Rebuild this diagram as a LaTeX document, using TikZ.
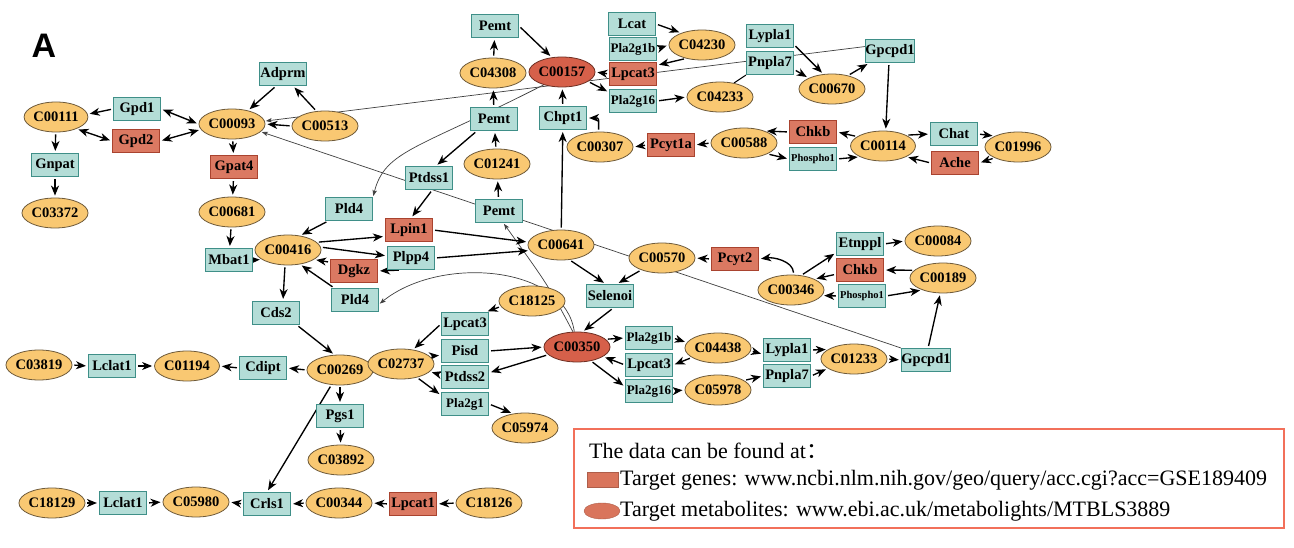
\documentclass[tikz,border=0pt]{standalone}
\usepackage{fontspec}
\setmainfont{Liberation Serif}
\newfontfamily\sansA{Liberation Sans}
\newfontfamily\cjk{Noto Sans CJK SC}
\usetikzlibrary{arrows.meta,shapes.geometric}
\definecolor{gfill}{HTML}{B4DDD7}
\definecolor{gdraw}{HTML}{3F8F88}
\definecolor{rfill}{HTML}{DB7962}
\definecolor{rdraw}{HTML}{A9432F}
\definecolor{mfill}{HTML}{F9C872}
\definecolor{mdraw}{HTML}{6E5A3A}
\definecolor{rmfill}{HTML}{D6604A}
\definecolor{rmdraw}{HTML}{6E2E22}
\definecolor{legred}{HTML}{F2705A}
\definecolor{legsw}{HTML}{D9755C}
\newcommand\NFmain{\bfseries\fontsize{14.5}{14.5}\selectfont}
\newcommand\NFsmall{\bfseries\fontsize{13}{13}\selectfont}
\newcommand\NFtiny{\bfseries\fontsize{10.5}{10.5}\selectfont}
\newcommand\NFleg{\fontsize{22}{22}\selectfont}
\pgfdeclarelayer{background}
\pgfsetlayers{background,main}
\begin{document}
\begin{tikzpicture}[x=1pt,y=1pt,
  gene/.style={rectangle, draw=gdraw, fill=gfill, line width=1.1pt, minimum width=47pt, minimum height=23pt, inner sep=0pt, font=\NFmain},
  tgene/.style={gene, draw=rdraw, fill=rfill},
  met/.style={ellipse, draw=mdraw, fill=mfill, line width=0.8pt, minimum width=51pt, minimum height=30pt, inner sep=0pt, font=\NFmain},
  tmet/.style={met, draw=rmdraw, fill=rmfill},
  ar/.style={line width=1.35pt, -{Stealth[length=10pt,width=8pt,inset=3pt]}, shorten >=2pt, shorten <=2pt},
  dar/.style={line width=1.35pt, {Stealth[length=10pt,width=8pt,inset=3pt]}-{Stealth[length=10pt,width=8pt,inset=3pt]}, shorten >=2pt, shorten <=2pt},
  tl/.style={line width=0.7pt, draw=black!75, -{Stealth[length=6pt,width=4.5pt,inset=1.5pt]}, shorten >=1pt},
  pl/.style={line width=1pt},
  txt/.style={inner sep=0pt, anchor=west, font=\NFleg}
]
\useasboundingbox (0,0) rectangle (1294,-548);

\node[font=\sansA\bfseries\fontsize{34}{34}\selectfont] (lbl) at (44,-46) {A};

% metabolites
\node[met] (c00111) at (56,-117) {C00111};
\node[met] (c03372) at (55,-213) {C03372};
\node[met] (c00093) at (232,-124) {C00093};
\node[met] (c00513) at (325,-126) {C00513};
\node[met] (c00681) at (232,-212) {C00681};
\node[met] (c00416) at (288,-250) {C00416};
\node[met] (c00269) at (340,-370) {C00269};
\node[met] (c03819) at (39,-365) {C03819};
\node[met] (c01194) at (187,-366) {C01194};
\node[met] (c03892) at (341,-460) {C03892};
\node[met] (c18129) at (52,-503) {C18129};
\node[met] (c05980) at (196,-502) {C05980};
\node[met] (c00344) at (339,-503) {C00344};
\node[met] (c18126) at (489,-503) {C18126};
\node[met] (c04308) at (493,-73) {C04308};
\node[tmet] (c00157) at (562,-72) {C00157};
\node[met] (c01241) at (497,-164) {C01241};
\node[met] (c00307) at (600,-147) {C00307};
\node[met] (c04230) at (702,-45) {C04230};
\node[met] (c04233) at (720,-97) {C04233};
\node[met] (c00670) at (832,-89) {C00670};
\node[met] (c00588) at (744,-143) {C00588};
\node[met] (c00114) at (883,-146) {C00114};
\node[met] (c01996) at (1018,-147) {C01996};
\node[met] (c00641) at (561,-245) {C00641};
\node[met] (c00570) at (662,-258) {C00570};
\node[met] (c18125) at (532,-301) {C18125};
\node[met] (c02737) at (401,-364) {C02737};
\node[tmet] (c00350) at (577,-347) {C00350};
\node[met] (c05974) at (525,-428) {C05974};
\node[met] (c00346) at (791,-290) {C00346};
\node[met] (c00084) at (938,-241) {C00084};
\node[met] (c00189) at (943,-278) {C00189};
\node[met] (c04438) at (718,-348) {C04438};
\node[met] (c05978) at (718,-390) {C05978};
\node[met] (c01233) at (854,-359) {C01233};

% genes
\node[gene] (gpd1) at (137,-109) {Gpd1};
\node[tgene] (gpd2) at (136,-141) {Gpd2};
\node[gene] (gnpat) at (55,-165) {Gnpat};
\node[gene] (adprm) at (283,-74) {Adprm};
\node[tgene] (gpat4) at (234,-167) {Gpat4};
\node[gene] (mbat1) at (229,-260) {Mbat1};
\node[gene] (cds2) at (276,-313) {Cds2};
\node[gene] (lclatA) at (112,-366) {Lclat1};
\node[gene] (cdipt) at (263,-368) {Cdipt};
\node[gene] (pgs1) at (340,-416) {Pgs1};
\node[gene] (lclatB) at (123,-503) {Lclat1};
\node[gene] (crls1) at (267,-504) {Crls1};
\node[tgene] (lpcat1) at (413,-504) {Lpcat1};
\node[gene] (pemtA) at (495,-26) {Pemt};
\node[gene] (pemtB) at (494,-119) {Pemt};
\node[gene] (pemtC) at (499,-211) {Pemt};
\node[gene] (chpt1) at (563,-118) {Chpt1};
\node[gene] (ptdss1) at (429,-178) {Ptdss1};
\node[gene] (pld4A) at (349,-209) {Pld4};
\node[tgene] (lpin1) at (409,-230) {Lpin1};
\node[gene] (plpp4) at (411,-258) {Plpp4};
\node[tgene] (dgkz) at (354,-271) {Dgkz};
\node[gene] (pld4B) at (355,-300) {Pld4};
\node[gene] (lcat) at (632,-24) {Lcat};
\node[gene,font=\NFsmall] (pla2g1bA) at (633,-49) {Pla2g1b};
\node[tgene] (lpcat3A) at (633,-74) {Lpcat3};
\node[gene,font=\NFsmall] (pla2g16A) at (633,-101) {Pla2g16};
\node[gene] (lypla1A) at (770,-36) {Lypla1};
\node[gene] (pnpla7A) at (770,-63) {Pnpla7};
\node[gene] (gpcpd1A) at (890,-51) {Gpcpd1};
\node[tgene] (pcyt1a) at (671,-145) {Pcyt1a};
\node[tgene] (chkbA) at (813,-132) {Chkb};
\node[gene,font=\NFtiny] (phosphoA) at (813,-159) {Phospho1};
\node[gene] (chat) at (954,-134) {Chat};
\node[tgene] (ache) at (955,-163) {Ache};
\node[gene] (selenoi) at (610,-296) {Selenoi};
\node[gene] (lpcat3B) at (465,-324) {Lpcat3};
\node[gene] (pisd) at (465,-351) {Pisd};
\node[gene] (ptdss2) at (465,-377) {Ptdss2};
\node[gene,font=\NFsmall] (pla2g1) at (465,-404) {Pla2g1};
\node[tgene] (pcyt2) at (735,-259) {Pcyt2};
\node[gene] (etnppl) at (860,-244) {Etnppl};
\node[tgene] (chkbB) at (860,-270) {Chkb};
\node[gene,font=\NFtiny] (phosphoB) at (862,-296) {Phospho1};
\node[gene,font=\NFsmall] (pla2g1bB) at (649,-338) {Pla2g1b};
\node[gene] (lpcat3C) at (649,-365) {Lpcat3};
\node[gene,font=\NFsmall] (pla2g16B) at (649,-391) {Pla2g16};
\node[gene] (lypla1B) at (787,-350) {Lypla1};
\node[gene] (pnpla7B) at (787,-376) {Pnpla7};
\node[gene] (gpcpd1B) at (926,-360) {Gpcpd1};

% legend
\node[draw=legred, line width=1.8pt, minimum width=710pt, minimum height=99pt, inner sep=0pt, anchor=north west] (legend) at (573,-428) {};
\node[txt] (legt) at (589,-451) {The data can be found at{\cjk ：}};
\node[rectangle, fill=legsw, draw=legsw!80!black, line width=0.4pt, minimum width=31pt, minimum height=15pt, inner sep=0pt] (legr) at (603,-480) {};
\node[txt] (legg) at (620,-480) {Target genes: www.ncbi.nlm.nih.gov/geo/query/acc.cgi?acc=GSE189409};
\node[ellipse, fill=legsw, draw=legsw!80!black, line width=0.4pt, minimum width=36pt, minimum height=16pt, inner sep=0pt] (lege) at (602,-511) {};
\node[txt] (legm) at (620,-511) {Target metabolites: www.ebi.ac.uk/metabolights/MTBLS3889};

\begin{pgfonlayer}{background}
\fill[white] (0,0) rectangle (1294,-548);
% thin lines
\draw[tl] (gpcpd1A.170) -- (c00093.5);
\draw[tl] (gpcpd1B.north west) -- (c00093.-15);
\draw[tl] (c00350.105) .. controls (548,-285) .. (pemtC.-70);
\draw[tl] (c00350.100) .. controls (565,-265) and (440,-255) .. (pld4B.-10);
\draw[tl] (c00157.-145) .. controls (418,-149) and (385,-150) .. (pld4A.north east);
% left part
\draw[ar] (gpd1.west) -- (c00111.5);
\draw[dar] (gpd1.east) -- (c00093.west);
\draw[dar] (c00111.-30) -- (gpd2.west);
\draw[dar] (gpd2.east) -- (c00093.190);
\draw[ar] (c00111) -- (gnpat);
\draw[ar] (gnpat) -- (c03372);
\draw[ar] (adprm.-120) -- (c00093.40);
\draw[ar] (c00513.120) -- (adprm.-50);
\draw[ar] (c00513.west) -- (c00093.east);
\draw[ar] (c00093) -- (gpat4);
\draw[ar] (gpat4) -- (c00681);
\draw[ar] (c00681) -- (mbat1);
\draw[ar] (mbat1.east) -- (c00416.200);
\draw[ar] (pld4A.-150) -- (c00416.50);
\draw[ar] (c00416.15) -- (lpin1.-165);
\draw[ar] (c00416.5) -- (plpp4.175);
\draw[ar] (dgkz.160) -- (c00416.-20);
\draw[ar] (pld4B.150) -- (c00416.-50);
\draw[ar] (plpp4.-130) -- (dgkz.east);
\draw[ar] (c00416.-101) -- (cds2.60);
\draw[ar] (cds2.-30) -- (c00269.110);
\draw[ar] (c00269.west) -- (cdipt.east);
\draw[ar] (cdipt.west) -- (c01194.east);
\draw[ar] (c03819.east) -- (lclatA.west);
\draw[ar] (lclatA.east) -- (c01194.west);
\draw[ar] (c00269) -- (pgs1);
\draw[ar] (pgs1) -- (c03892);
\draw[ar] (c00269.-120) -- (crls1.north);
\draw[ar] (c18129.east) -- (lclatB.west);
\draw[ar] (lclatB.east) -- (c05980.west);
\draw[ar] (crls1.west) -- (c05980.east);
\draw[ar] (c00344.west) -- (crls1.east);
\draw[ar] (lpcat1.west) -- (c00344.east);
\draw[ar] (c18126.west) -- (lpcat1.east);
% upper middle
\draw[ar] (pemtB.-145) -- (ptdss1.60);
\draw[ar] (ptdss1.-75) -- (lpin1.80);
\draw[ar] (c04308) -- (pemtA);
\draw[ar] (pemtA.east) -- (c00157.125);
\draw[ar] (pemtB) -- (c04308);
\draw[ar] (c01241) -- (pemtB);
\draw[ar] (pemtC) -- (c01241);
\draw[ar] (chpt1) -- (c00157);
\draw[ar] (c00641) -- (chpt1);
\draw[ar] (c00307.95) .. controls +(0,14) and +(12,0) .. (chpt1.east);
\draw[ar] (pcyt1a.west) -- (c00307.east);
\draw[ar] (c00588.west) -- (pcyt1a.east);
\draw[ar] (c00114.160) -- (chkbA.east);
\draw[ar] (chkbA.west) -- (c00588.30);
\draw[ar] (c00588.-25) -- (phosphoA.west);
\draw[ar] (phosphoA.east) -- (c00114.-155);
\draw[ar] (c00114.25) -- (chat.west);
\draw[ar] (ache.west) -- (c00114.-25);
\draw[ar] (chat.east) -- (c01996.155);
\draw[ar] (c01996.-155) -- (ache.east);
\draw[ar] (gpcpd1A.-95) -- (c00114.80);
\draw[ar] (c00670.40) -- (gpcpd1A.-150);
\draw[ar] (lypla1A.-20) -- (c00670.120);
\draw[ar] (pnpla7A.-15) -- (c00670.155);
\draw[pl] (c04233.45) -- (pnpla7A.south west);
\draw[ar] (pla2g16A.east) -- (c04233.west);
\draw[ar] (c00157.-20) -- (pla2g16A.160);
\draw[ar] (lpcat3A.west) -- (c00157.east);
\draw[ar] (c04230.-140) -- (lpcat3A.20);
\draw[ar] (lcat.east) -- (c04230.150);
\draw[ar] (pla2g1bA.east) -- (c04230.west);
% lower middle / right
\draw[ar] (c00641.-60) -- (selenoi.110);
\draw[ar] (c00570.-150) -- (selenoi.60);
\draw[ar] (pcyt2.west) -- (c00570.east);
\draw[ar] (c00346.80) .. controls +(-1,14) and +(14,2) .. (pcyt2.east);
\draw[ar] (c00346.55) -- (etnppl.200);
\draw[ar] (etnppl.east) -- (c00084.west);
\draw[ar] (chkbB.190) -- (c00346.25);
\draw[ar] (c00189.165) -- (chkbB.east);
\draw[ar] (phosphoB.west) -- (c00346.-10);
\draw[ar] (phosphoB.east) -- (c00189.-150);
\draw[ar] (gpcpd1B.80) -- (c00189.-100);
\draw[ar] (c01233.east) -- (gpcpd1B.west);
\draw[ar] (lypla1B.east) -- (c01233.160);
\draw[ar] (pnpla7B.east) -- (c01233.-160);
\draw[ar] (c04438.-5) -- (lypla1B.-170);
\draw[ar] (c05978.20) -- (pnpla7B.west);
\draw[ar] (pla2g1bB.east) -- (c04438.170);
\draw[ar] (c04438.-160) -- (lpcat3C.east);
\draw[ar] (lpcat3C.west) -- (c00350.-20);
\draw[ar] (c00350.15) -- (pla2g1bB.west);
\draw[ar] (c00350.-45) -- (pla2g16B.170);
\draw[ar] (pla2g16B.east) -- (c05978.west);
\draw[ar] (selenoi.-75) -- (c00350.70);
\draw[ar] (pisd.east) -- (c00350.west);
\draw[ar] (c00350.195) -- (ptdss2.10);
\draw[ar] (ptdss2.175) -- (c02737.-15);
\draw[ar] (c02737.15) -- (pisd.-170);
\draw[ar] (lpcat3B.west) -- (c02737.50);
\draw[ar] (c18125.190) -- (lpcat3B.30);
\draw[ar] (c02737.-40) -- (pla2g1.160);
\draw[ar] (pla2g1.east) -- (c05974.130);
\draw[ar] (lpin1.east) -- (c00641.175);
\draw[ar] (plpp4.east) -- (c00641.190);
\end{pgfonlayer}
\end{tikzpicture}
\end{document}
